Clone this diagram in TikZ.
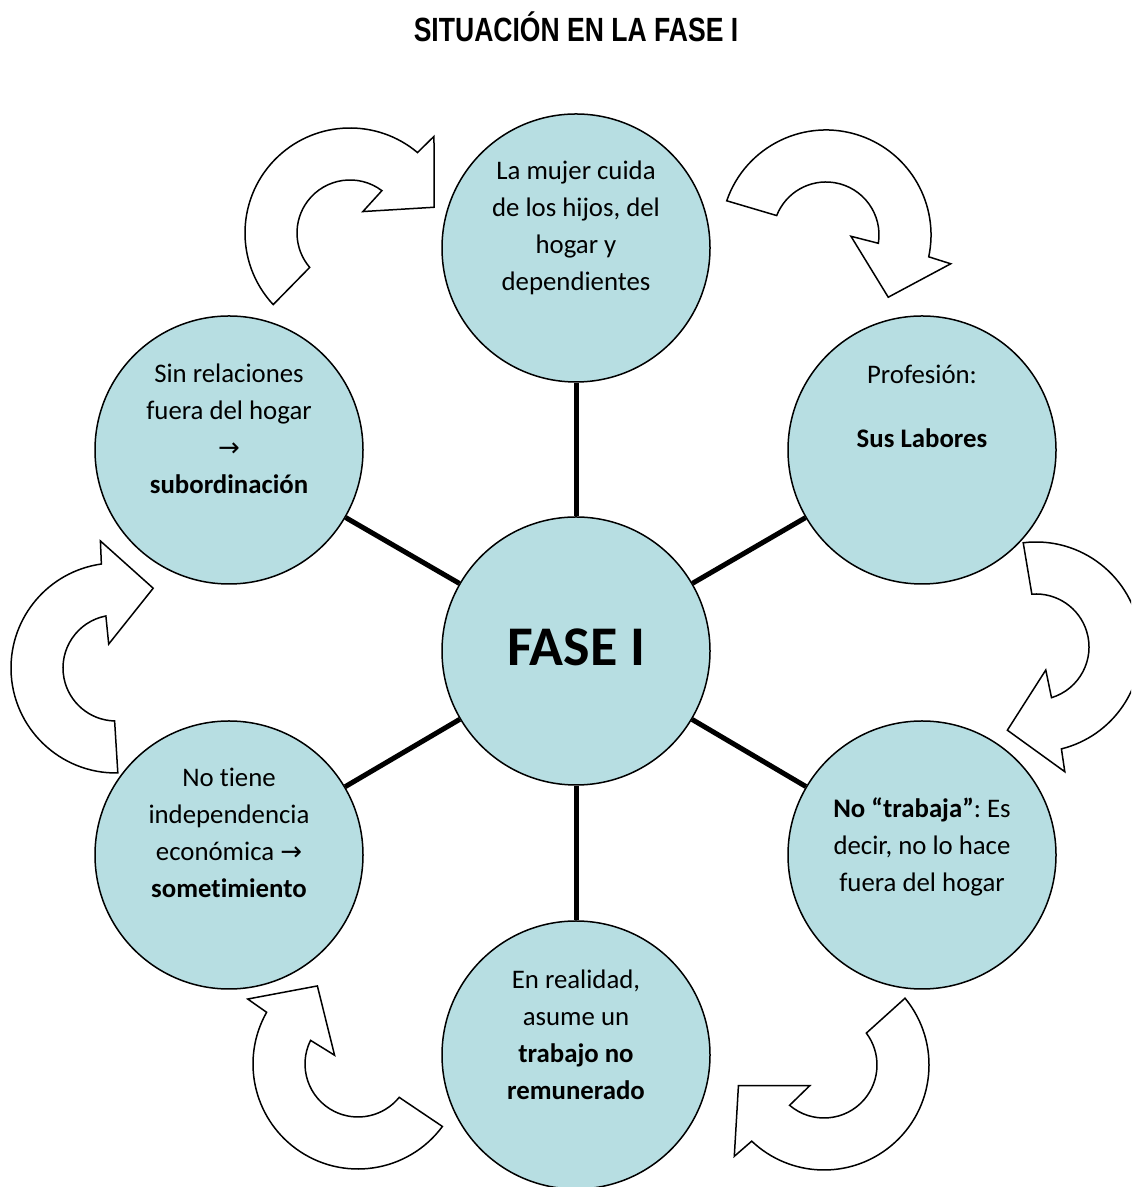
\documentclass[tikz,border=0pt]{standalone}
\usepackage{fontspec}
\usepackage{graphicx}
\setmainfont[Ligatures={NoCommon}]{Carlito}
\newfontfamily\titlefont{Liberation Sans}
\newfontfamily\symfont{DejaVu Sans}
\definecolor{fillblue}{RGB}{183,222,226}
\frenchspacing
\begin{document}
\begin{tikzpicture}[x=0.5pt,y=0.5pt,
  bubble/.style={circle, draw=black, line width=0.75pt, fill=fillblue, minimum size=134pt, inner sep=0pt},
  spoke/.style={line width=2.5pt},
  txt/.style={align=center, font=\fontsize{13.4}{18.5}\selectfont},
  cyc/.pic={\draw[line width=0.75pt, fill=white, line join=miter]
     (0:105) arc[start angle=0, end angle=-173, radius=105]
     -- (-174:128) -- (-206:88) -- (-164:25) -- (-170:53)
     arc[start angle=-170, end angle=-2.5, radius=53] -- cycle;}
]
\useasboundingbox (0,0) rectangle (1131,1187);
\clip (0,0) rectangle (1131,1187);

% curved arrows
\path (350,954) pic[rotate=223] {cyc};
\path (826,952) pic[rotate=161] {cyc};
\path (1036,540) pic[rotate=97] {cyc};
\path (824,122) pic[rotate=39.5] {cyc};
\path (358,123) pic[rotate=-36.5] {cyc};
\path (116,519) pic[rotate=-89] {cyc};

% circles
\node[bubble] (c)  at (576,536) {};
\node[bubble] (top) at (576,939) {};
\node[bubble] (ur) at (922,737) {};
\node[bubble] (lr) at (922,332) {};
\node[bubble] (bot) at (576,132) {};
\node[bubble] (ll) at (229,332) {};
\node[bubble] (ul) at (229,737) {};

% spokes
\foreach \n in {top,ur,lr,bot,ll,ul} \draw[spoke] (c) -- (\n);

% texts
\node[anchor=base] (title) at (576,1145) {\titlefont\bfseries\fontsize{16.8}{20}\selectfont\scalebox{0.79}[1]{SITUACIÓN EN LA FASE I}};
\node[font=\bfseries\fontsize{28}{30}\selectfont] (cT) at (576,540) {FASE I};
\node[txt] (tTop) at (576,959.5) {La mujer cuida\\de los hijos, del\\hogar y\\dependientes};
\node[txt] (tUR) at (922,781) {Profesión:\\[13.5pt]\textbf{Sus Labores}};
\node[txt] (tLR) at (922,340.5) {\textbf{No “trabaja”}: Es\\decir, no lo hace\\fuera del hogar};
\node[txt] (tB) at (576,152) {En realidad,\\asume un\\\textbf{trabajo no}\\\textbf{remunerado}};
\node[txt] (tLL) at (229,354) {No tiene\\independencia\\económica {\symfont\fontsize{13}{18.5}\selectfont →}\\\textbf{sometimiento}};
\node[txt] (tUL) at (229,758) {Sin relaciones\\fuera del hogar\\{\symfont\fontsize{13}{18.5}\selectfont →}\\\textbf{subordinación}};
\end{tikzpicture}
\end{document}
